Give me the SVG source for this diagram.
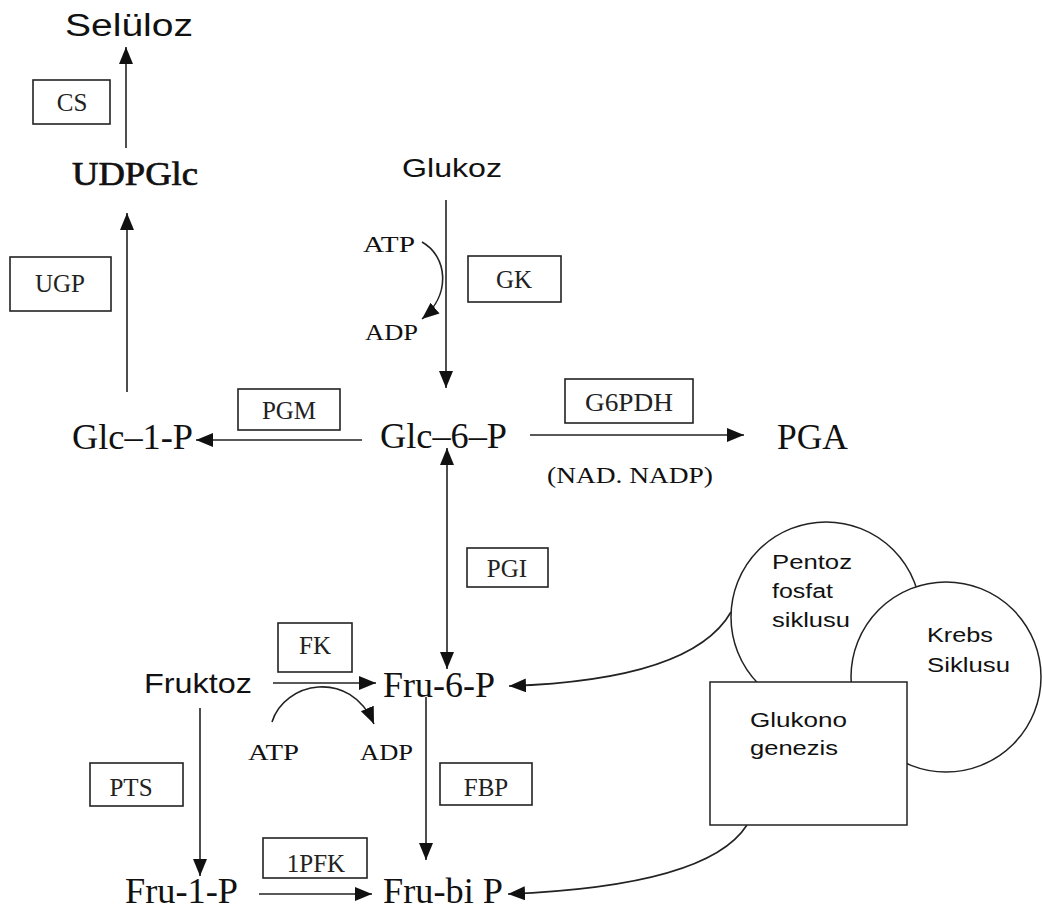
<svg xmlns="http://www.w3.org/2000/svg" width="1042" height="914" viewBox="0 0 1042 914">
<style>
.serif{font-family:"Liberation Serif","Times New Roman",serif;fill:#111}
.sans{font-family:"Liberation Sans",Arial,sans-serif;fill:#111}
.box{fill:#fff;stroke:#222;stroke-width:1.6}
.enz{font-family:"Liberation Serif","Times New Roman",serif;font-size:25px;fill:#222;text-anchor:middle}
.ln{fill:none;stroke:#222;stroke-width:1.6}
.shape{fill:#fff;stroke:#222;stroke-width:1.5}
</style>
<defs>
<marker id="ah" markerUnits="userSpaceOnUse" markerWidth="20" markerHeight="16" refX="17" refY="7" orient="auto">
<path d="M0,0 L17,7 L0,14 z" fill="#111"/>
</marker>
<marker id="ahs" markerUnits="userSpaceOnUse" markerWidth="20" markerHeight="16" refX="17" refY="7" orient="auto-start-reverse">
<path d="M0,0 L17,7 L0,14 z" fill="#111"/>
</marker>
</defs>
<rect width="1042" height="914" fill="#fff"/>

<g id="connectors">
<line class="ln" x1="126" y1="148" x2="126" y2="47" marker-end="url(#ah)"/>
<line class="ln" x1="127" y1="392" x2="127" y2="213" marker-end="url(#ah)"/>
<line class="ln" x1="362" y1="440" x2="196" y2="440" marker-end="url(#ah)"/>
<line class="ln" x1="446" y1="200" x2="446" y2="388" marker-end="url(#ah)"/>
<path class="ln" d="M422,242 C447,256 452,294 422,319" marker-end="url(#ah)"/>
<line class="ln" x1="530" y1="435" x2="744" y2="435" marker-end="url(#ah)"/>
<line class="ln" x1="447" y1="448" x2="447" y2="669" marker-start="url(#ahs)" marker-end="url(#ah)"/>
<line class="ln" x1="273" y1="683" x2="376" y2="683" marker-end="url(#ah)"/>
<path class="ln" d="M272,722 C284,682 350,668 374,724" marker-end="url(#ah)"/>
<line class="ln" x1="200" y1="708" x2="200" y2="876" marker-end="url(#ah)"/>
<line class="ln" x1="426" y1="697" x2="426" y2="860" marker-end="url(#ah)"/>
<line class="ln" x1="259" y1="894" x2="372" y2="894" marker-end="url(#ah)"/>
<path class="ln" d="M731,612 Q692,680 509,686" marker-end="url(#ah)"/>
<path class="ln" d="M747,825 Q708,886 508,894" marker-end="url(#ah)"/>
</g>

<g id="seluloz"><text class="sans" x="65" y="36" font-size="31" textLength="128" lengthAdjust="spacingAndGlyphs">Selüloz</text></g>
<g id="udpglc"><text class="serif" x="72" y="185" font-size="33" stroke="#111" stroke-width="0.7" textLength="126" lengthAdjust="spacingAndGlyphs">UDPGlc</text></g>
<g id="glc1p"><text class="serif" x="72" y="449" font-size="36" textLength="121" lengthAdjust="spacingAndGlyphs">Glc–1-P</text></g>
<g id="glukoz"><text class="sans" x="402" y="177" font-size="25" textLength="100" lengthAdjust="spacingAndGlyphs">Glukoz</text></g>
<g id="glc6p"><text class="serif" x="380" y="448" font-size="36" textLength="127" lengthAdjust="spacingAndGlyphs">Glc–6–P</text></g>
<g id="pga"><text class="serif" x="777" y="449" font-size="36" textLength="71" lengthAdjust="spacingAndGlyphs">PGA</text></g>
<g id="nadnadp"><text class="serif" x="547" y="483" font-size="24" textLength="166" lengthAdjust="spacingAndGlyphs">(NAD. NADP)</text></g>
<g id="atp1"><text class="serif" x="363" y="252" font-size="23" textLength="52" lengthAdjust="spacingAndGlyphs">ATP</text></g>
<g id="adp1"><text class="serif" x="365" y="340" font-size="23" textLength="53" lengthAdjust="spacingAndGlyphs">ADP</text></g>
<g id="fruktoz"><text class="sans" x="144" y="693" font-size="28" textLength="108" lengthAdjust="spacingAndGlyphs">Fruktoz</text></g>
<g id="fru6p"><text class="serif" x="383" y="697" font-size="36" textLength="112" lengthAdjust="spacingAndGlyphs">Fru-6-P</text></g>
<g id="atp2"><text class="serif" x="248" y="760" font-size="23" textLength="51" lengthAdjust="spacingAndGlyphs">ATP</text></g>
<g id="adp2"><text class="serif" x="360" y="760" font-size="23" textLength="53" lengthAdjust="spacingAndGlyphs">ADP</text></g>
<g id="fru1p"><text class="serif" x="125" y="903" font-size="36" textLength="113" lengthAdjust="spacingAndGlyphs">Fru-1-P</text></g>
<g id="frubip"><text class="serif" x="383" y="903" font-size="36" textLength="120" lengthAdjust="spacingAndGlyphs">Fru-bi P</text></g>

<g id="cs"><rect class="box" x="33" y="80" width="77" height="44"/><text class="enz" x="72" y="111">CS</text></g>
<g id="ugp"><rect class="box" x="10" y="257" width="101" height="54"/><text class="enz" x="60" y="292">UGP</text></g>
<g id="pgm"><rect class="box" x="238" y="389" width="102" height="41"/><text class="enz" x="289" y="419">PGM</text></g>
<g id="gk"><rect class="box" x="468" y="256" width="93" height="46"/><text class="enz" x="514" y="288">GK</text></g>
<g id="g6pdh"><rect class="box" x="565" y="379" width="128" height="44"/><text class="enz" x="629" y="411" textLength="88" lengthAdjust="spacingAndGlyphs">G6PDH</text></g>
<g id="pgi"><rect class="box" x="467" y="548" width="81" height="39"/><text class="enz" x="507" y="577" font-size="22">PGI</text></g>
<g id="fk"><rect class="box" x="278" y="623" width="74" height="49"/><text class="enz" x="315" y="654" font-size="21">FK</text></g>
<g id="pts"><rect class="box" x="90" y="763" width="93" height="43"/><text class="enz" x="131" y="796">PTS</text></g>
<g id="fbp"><rect class="box" x="440" y="763" width="92" height="42"/><text class="enz" x="486" y="796">FBP</text></g>
<g id="pfk1"><rect class="box" x="263" y="838" width="104" height="40"/><text class="enz" x="316" y="872">1PFK</text></g>

<g id="pentoz">
<circle class="shape" cx="826" cy="617" r="95"/>
<text class="sans" x="772" y="569" font-size="20" textLength="80" lengthAdjust="spacingAndGlyphs">Pentoz</text>
<text class="sans" x="772" y="598" font-size="20" textLength="61" lengthAdjust="spacingAndGlyphs">fosfat</text>
<text class="sans" x="772" y="627" font-size="20" textLength="78" lengthAdjust="spacingAndGlyphs">siklusu</text>
</g>
<g id="krebs">
<circle class="shape" cx="946" cy="677" r="95"/>
<text class="sans" x="927" y="642" font-size="20" textLength="66" lengthAdjust="spacingAndGlyphs">Krebs</text>
<text class="sans" x="927" y="672" font-size="20" textLength="83" lengthAdjust="spacingAndGlyphs">Siklusu</text>
</g>
<g id="glukonogenezis">
<rect class="shape" x="710" y="682" width="197" height="143"/>
<text class="sans" x="750" y="727" font-size="20" textLength="97" lengthAdjust="spacingAndGlyphs">Glukono</text>
<text class="sans" x="750" y="755" font-size="20" textLength="88" lengthAdjust="spacingAndGlyphs">genezis</text>
</g>
</svg>
